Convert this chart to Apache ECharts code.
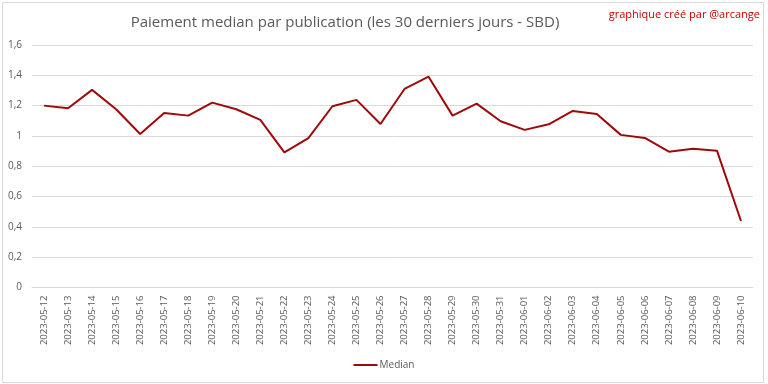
<!DOCTYPE html>
<html><head><meta charset="utf-8">
<script src="https://cdn.jsdelivr.net/npm/echarts@6/dist/echarts.min.js"></script>
<style>html,body{margin:0;padding:0;background:#fff;}#c{width:768px;height:384px;}</style>
</head><body><div id="c"></div>
<script>
const categories = ["2023-05-12","2023-05-13","2023-05-14","2023-05-15","2023-05-16","2023-05-17","2023-05-18","2023-05-19","2023-05-20","2023-05-21","2023-05-22","2023-05-23","2023-05-24","2023-05-25","2023-05-26","2023-05-27","2023-05-28","2023-05-29","2023-05-30","2023-05-31","2023-06-01","2023-06-02","2023-06-03","2023-06-04","2023-06-05","2023-06-06","2023-06-07","2023-06-08","2023-06-09","2023-06-10"];
const median = [1.200,1.183,1.304,1.176,1.013,1.152,1.134,1.220,1.176,1.106,0.892,0.985,1.196,1.238,1.079,1.310,1.391,1.134,1.213,1.097,1.040,1.077,1.165,1.145,1.007,0.987,0.896,0.916,0.903,0.439];
const seriesName = "Median";
const titleText = "Paiement median par publication (les 30 derniers jours - SBD)";
const creditText = "graphique créé par @arcange";

const chart = echarts.init(document.getElementById('c'), null, {renderer:'canvas'});
const fmt = v => (Math.abs(v - Math.round(v)) < 1e-9 ? String(Math.round(v)) : v.toFixed(1).replace('.', ','));
chart.setOption({
  animation: false,
  backgroundColor: '#fff',
  textStyle: {fontFamily: 'Open Sans'},
  title: {
    text: titleText, left: 340, textAlign: 'center', top: 10,
    textStyle: {fontSize: 15, fontWeight: 'normal', color: '#595959', fontFamily: 'Open Sans'}
  },
  graphic: [
    {type:'text', right: 8, top: 9, style:{text: creditText, fill:'#c00000', font:'11px "Open Sans"'}},
    {type:'rect', left: 0, top: 0, shape:{x:0.5,y:0.5,width:761,height:380}, style:{fill:'none', stroke:'#d9d9d9', lineWidth:1}, silent:true}
  ],
  grid: {left: 32, right: 15, top: 45, bottom: 96.5, containLabel: false},
  legend: {
    data: [seriesName], bottom: 9, left: 'center', icon: 'rect', itemWidth: 24, itemHeight: 2, itemGap: 4,
    textStyle: {fontSize: 10, color: '#595959', fontFamily: 'Open Sans', padding:[0,0,0,-3]}
  },
  xAxis: {
    type: 'category', data: categories, boundaryGap: true,
    axisLine: {show: true, lineStyle: {color: '#d9d9d9'}},
    axisTick: {show: false},
    axisLabel: {rotate: 90, interval: 0, fontSize: 9.5, color: '#595959', margin: 8, fontFamily: 'Open Sans'}
  },
  yAxis: {
    type: 'value', min: 0, max: 1.6, interval: 0.2,
    axisLine: {show: false}, axisTick: {show: false},
    splitLine: {lineStyle: {color: '#d9d9d9', width: 1}},
    axisLabel: {formatter: fmt, fontSize: 10, color: '#595959', margin: 10, fontFamily: 'Open Sans'}
  },
  series: [{
    name: seriesName, type: 'line', data: median, symbol: 'none',
    lineStyle: {color: '#9e0a0a', width: 2}, itemStyle: {color: '#9e0a0a'}
  }]
});
</script></body></html>
